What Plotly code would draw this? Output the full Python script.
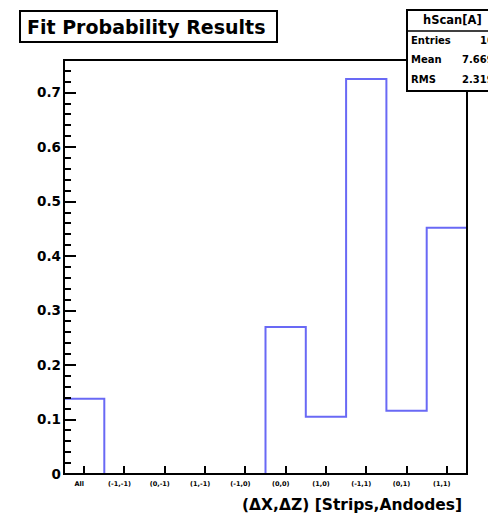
import plotly.graph_objects as go

categories = ["All", "(-1,-1)", "(0,-1)", "(1,-1)", "(-1,0)", "(0,0)", "(1,0)", "(-1,1)", "(0,1)", "(1,1)"]
values = [0.138, 0, 0, 0, 0, 0.27, 0.105, 0.725, 0.116, 0.452]
ytick_vals = [0, 0.1, 0.2, 0.3, 0.4, 0.5, 0.6, 0.7]
ytick_text = ["0", "0.1", "0.2", "0.3", "0.4", "0.5", "0.6", "0.7"]
stats_name = "hScan[A]"
stats_rows = [("Entries", "10"), ("Mean", "7.669"), ("RMS", "2.319")]

OFF = 8  # page body margin
W, H = 496, 517
L, R, T, B = 64, 467, 60, 474
FONT = "DejaVu Sans, Liberation Sans, Arial, sans-serif"

def px(x):
    return (x - L) / (R - L)

def py(y):
    return (B - y) / (B - T)

n = len(categories)
edges = list(range(n + 1))
step_y = values + [values[-1]]

fig = go.Figure()
fig.add_trace(go.Scatter(
    x=edges, y=step_y, mode="lines", line_shape="hv",
    line=dict(color="rgb(105,105,245)", width=2), showlegend=False, hoverinfo="skip",
))

fig.update_layout(
    width=W - OFF, height=H - OFF,
    margin=dict(l=L - OFF, r=W - R, t=T - OFF, b=H - B, pad=0),
    paper_bgcolor="white", plot_bgcolor="white",
    font=dict(family=FONT, color="black"),
    xaxis=dict(
        range=[0, n], tickvals=[i + 0.5 for i in range(n)], ticktext=categories,
        ticks="inside", ticklen=8, tickwidth=2, tickcolor="black",
        tickfont=dict(size=6.5, weight="bold"), ticklabelshift=-5, ticklabelstandoff=4,
        showgrid=False, zeroline=False, layer="above traces", showline=False,
    ),
    yaxis=dict(
        range=[0, 0.76], tickvals=ytick_vals, ticktext=ytick_text,
        ticks="inside", ticklen=12, tickwidth=2, tickcolor="black",
        tickfont=dict(size=13.5, weight="bold"), ticklabelstandoff=2,
        minor=dict(dtick=0.02, ticks="inside", ticklen=7, tickwidth=2, tickcolor="black"),
        showgrid=False, zeroline=False, layer="above traces", showline=False,
    ),
)

shapes = []
# Frame
shapes.append(dict(type="rect", xref="paper", yref="paper", x0=0, x1=1, y0=0, y1=1,
                   line=dict(color="black", width=2), layer="above"))
# Title box
shapes.append(dict(type="rect", xref="paper", yref="paper",
                   x0=px(20), x1=px(277), y0=py(42), y1=py(11),
                   line=dict(color="black", width=2), fillcolor="white", layer="above"))
# Stats box
shapes.append(dict(type="rect", xref="paper", yref="paper",
                   x0=px(407), x1=px(520), y0=py(91), y1=py(10),
                   line=dict(color="black", width=2), fillcolor="white", layer="above"))
shapes.append(dict(type="line", xref="paper", yref="paper",
                   x0=px(407), x1=px(520), y0=py(31), y1=py(31),
                   line=dict(color="black", width=1.5), layer="above"))
fig.update_layout(shapes=shapes)

ann = []
ann.append(dict(text="<b>Fit Probability Results</b>", xref="paper", yref="paper",
                x=px(146), y=py(26.5), xanchor="center", yanchor="middle",
                showarrow=False, font=dict(size=19, color="black")))
ann.append(dict(text="<b>" + stats_name + "</b>", xref="paper", yref="paper",
                x=px(452), y=py(20), xanchor="center", yanchor="middle",
                showarrow=False, font=dict(size=11.5, color="black")))
for i, (k, v) in enumerate(stats_rows):
    yy = 40 + i * 19.5
    ann.append(dict(text="<b>" + k + "</b>", xref="paper", yref="paper",
                    x=px(409), y=py(yy), xanchor="left", yanchor="middle",
                    showarrow=False, font=dict(size=10, color="black")))
    ann.append(dict(text="<b>" + v + "</b>", xref="paper", yref="paper",
                    x=px(496), y=py(yy), xanchor="right", yanchor="middle",
                    showarrow=False, font=dict(size=10, color="black")))
ann.append(dict(text="<b>(ΔX,ΔZ) [Strips,Andodes]</b>", xref="paper", yref="paper",
                x=px(464), y=py(505), xanchor="right", yanchor="middle",
                showarrow=False, font=dict(size=15.5, color="black")))
fig.update_layout(annotations=ann)

fig.write_html("out.html")
